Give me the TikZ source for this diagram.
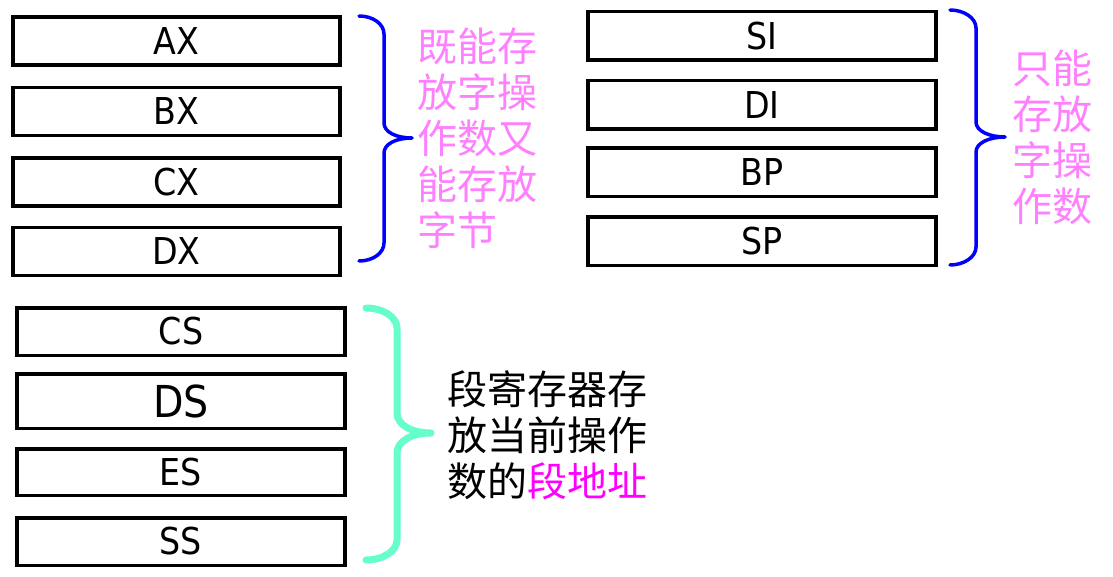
\documentclass[tikz,border=0pt]{standalone}
\usepackage{fontspec}
\setmainfont{DejaVu Sans Condensed}
\newfontfamily\cjk{Noto Sans CJK SC}
\usepackage{xcolor}
\definecolor{notepink}{RGB}{255,128,255}
\definecolor{segpink}{RGB}{255,0,255}
\definecolor{braceblue}{RGB}{0,0,255}
\definecolor{braceteal}{RGB}{102,255,204}

\begin{document}
\begin{tikzpicture}[x=1pt,y=-1pt]
\tikzstyle{reg} = [draw, line width=3.5pt, inner sep=0pt, font=\fontsize{37}{37}\selectfont]
\tikzstyle{note} = [anchor=west, inner sep=0pt, align=left, font=\cjk\fontsize{40}{46}\selectfont]
\tikzstyle{bluebrace} = [draw=braceblue, line width=3.5pt, line cap=round, line join=round]
\tikzstyle{tealbrace} = [draw=braceteal, line width=7pt, line cap=round, line join=round]
\useasboundingbox (0,0) rectangle (1113,577);

% data registers
\node[reg, minimum width=327, minimum height=48] at (176.5,41) (ax){AX};
\node[reg, minimum width=327, minimum height=48] at (176.5,111.5) (bx){BX};
\node[reg, minimum width=327, minimum height=48] at (176.5,182) (cx){CX};
\node[reg, minimum width=327, minimum height=48] at (176.5,251.5) (dx){DX};

% pointer and index registers
\node[reg, minimum width=348, minimum height=48.5] at (762,36) (si){SI};
\node[reg, minimum width=348, minimum height=48.5] at (762,105) (di){DI};
\node[reg, minimum width=348, minimum height=48.5] at (762,172.5) (bp){BP};
\node[reg, minimum width=348, minimum height=48.5] at (762,241.5) (sp){SP};

% segment registers
\node[reg, minimum width=328, minimum height=47.5] at (181,331.5) (cs){CS};
\node[reg, minimum width=328, minimum height=54.5, font=\fontsize{44}{44}\selectfont] at (181,401) (ds){DS};
\node[reg, minimum width=328, minimum height=46.5] at (181,472) (es){ES};
\node[reg, minimum width=328, minimum height=47.5] at (181,541.5) (ss){SS};

\draw[bluebrace] (359,16) .. controls (373,16) and (384,24) .. (384,34) -- (384,123)
  .. controls (384,132) and (396,138) .. (412,138) .. controls (396,138) and (384,144) .. (384,153)
  -- (384,243) .. controls (384,253) and (373,261) .. (359,261);
\draw[bluebrace] (950,10) .. controls (964,10) and (976,18) .. (976,28) -- (976,122)
  .. controls (976,131) and (989,137) .. (1005,137) .. controls (989,137) and (976,143) .. (976,152)
  -- (976,247) .. controls (976,257) and (964,265) .. (950,265);
\draw[tealbrace] (366,308) .. controls (383,308) and (397,317) .. (397,328) -- (397,413)
  .. controls (397,425) and (412,433) .. (431,433) .. controls (412,433) and (397,441) .. (397,453)
  -- (397,540) .. controls (397,551) and (383,560) .. (366,560);

\node[note, text=notepink] at (417,138.5) (datanote){既能存\\放字操\\作数又\\能存放\\字节};
\node[note, text=notepink] at (1012,137.5) (ptrnote){只能\\存放\\字操\\作数};
\node[note] at (447,435) (segnote){段寄存器存\\放当前操作\\数的{\color{segpink}段地址}};
\end{tikzpicture}
\end{document}
